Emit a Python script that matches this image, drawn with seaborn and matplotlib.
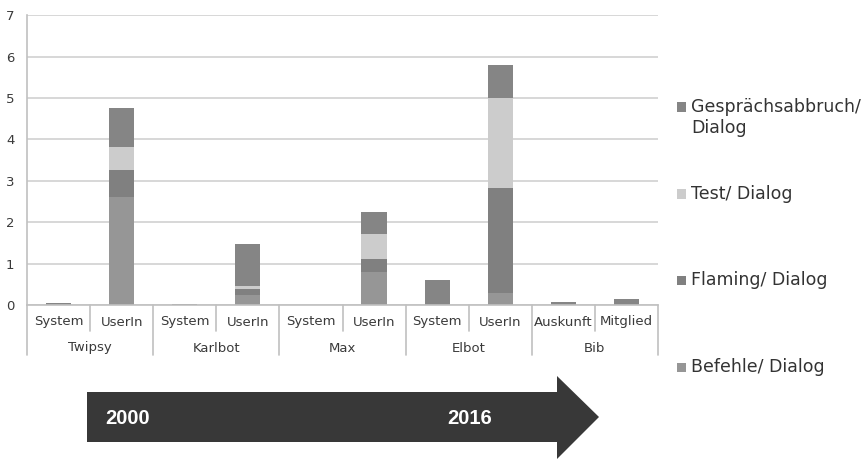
import matplotlib
matplotlib.use("Agg")
import matplotlib.pyplot as plt
import matplotlib.transforms as mtransforms
from matplotlib.patches import Polygon, Rectangle
import seaborn as sns
import pandas as pd
import numpy as np

# ---------------- data ----------------
groups = ["Twipsy", "Karlbot", "Max", "Elbot", "Bib"]
group_sizes = [2, 2, 2, 2, 2]
subcats = ["System", "UserIn", "System", "UserIn", "System", "UserIn",
           "System", "UserIn", "Auskunft", "Mitglied"]
series = ["Befehle/ Dialog", "Flaming/ Dialog", "Test/ Dialog",
          "Gesprächsabbruch/\nDialog"]
befehle = [0, 2.62, 0, 0.25, 0, 0.79, 0, 0.30, 0, 0]
flaming = [0, 0.63, 0, 0.14, 0, 0.33, 0, 2.53, 0, 0]
test = [0, 0.57, 0, 0.08, 0, 0.59, 0, 2.17, 0, 0]
gespraech = [0.04, 0.93, 0.02, 1.00, 0, 0.53, 0.60, 0.80, 0.07, 0.15]
colors = ["#969696", "#808080", "#cccccc", "#858585"]
years = ["2000", "2016"]
yticks = [0, 1, 2, 3, 4, 5, 6, 7]

# ---------------- figure ----------------
sns.set_style("white")
W, H = 866, 459
fig = plt.figure(figsize=(W / 100, H / 100), dpi=100)
ax_l, ax_r, ax_t, ax_b = 27, 658, 15.3, 305
ax = fig.add_axes([ax_l / W, (H - ax_b) / H, (ax_r - ax_l) / W, (ax_b - ax_t) / H])

# unique category keys
grp_of = []
for g, n in zip(groups, group_sizes):
    grp_of += [g] * n
keys = [f"{g}|{s}|{i}" for i, (g, s) in enumerate(zip(grp_of, subcats))]

vals = np.array([befehle, flaming, test, gespraech])
cum = np.cumsum(vals, axis=0)

# draw stacked bars: tallest cumulative first, overlay lower ones
for k in range(len(series) - 1, -1, -1):
    df = pd.DataFrame({"key": keys, "val": cum[k]})
    sns.barplot(data=df, x="key", y="val", order=keys, color=colors[k],
                saturation=1, width=0.4, errorbar=None, linewidth=0, ax=ax)

ax.set_xlim(-0.5, len(keys) - 0.5)
ax.set_ylim(0, 7)
ax.set_yticks(yticks)
ax.set_yticklabels([str(t) for t in yticks], fontsize=9.5, color="#3a3a3a")
ax.set_xticks([])
ax.set_xlabel("")
ax.set_ylabel("")
ax.yaxis.grid(True, color="#d4d4d4", linewidth=1.3)
ax.set_axisbelow(True)
for s in ["top", "right"]:
    ax.spines[s].set_visible(False)
ax.spines["left"].set_color("#c0c0c0")
ax.spines["bottom"].set_color("#c0c0c0")
ax.spines["left"].set_linewidth(1.2)
ax.spines["bottom"].set_linewidth(1.2)
ax.tick_params(axis="y", length=4, color="#c0c0c0", pad=5, width=1.2)

# multi-level category axis
axh = ax_b - ax_t
trans = mtransforms.blended_transform_factory(ax.transData, ax.transAxes)
row1 = -(322 - ax_b) / axh
row2 = -(348 - ax_b) / axh
short = -(331 - ax_b) / axh
long_ = -(355 - ax_b) / axh
for i, s in enumerate(subcats):
    ax.text(i, row1, s, transform=trans, ha="center", va="center",
            fontsize=9.5, color="#3a3a3a")
pos = 0
bounds = [0]
for g, n in zip(groups, group_sizes):
    ax.text(pos + (n - 1) / 2, row2, g, transform=trans, ha="center",
            va="center", fontsize=9.5, color="#3a3a3a")
    pos += n
    bounds.append(pos)
for i in range(len(keys) + 1):
    x = i - 0.5
    y1 = long_ if i in bounds else short
    ax.plot([x, x], [0, y1], transform=trans, color="#c0c0c0", lw=1.2,
            clip_on=False)

# legend (manual, to match spacing)
def fx(x):
    return x / W
def fy(y):
    return 1 - y / H

leg_text_y = [367, 280, 194, 117.5]
leg_mark_y = [367, 280, 194, 107]
for k in range(len(series)):
    fig.patches.append(Rectangle((fx(677), fy(leg_mark_y[k] + 4.5)), 9 / W, 9 / H,
                                 transform=fig.transFigure, facecolor=colors[k],
                                 edgecolor="none"))
    fig.text(fx(691), fy(leg_text_y[k]), series[k], ha="left", va="center",
             fontsize=12.5, color="#333333", linespacing=1.2)

# timeline arrow
pts = [(87, 392), (557, 392), (557, 376), (599, 417), (557, 459),
       (557, 442), (87, 442)]
fig.patches.append(Polygon([(fx(x), fy(y)) for x, y in pts], closed=True,
                           transform=fig.transFigure, facecolor="#383838",
                           edgecolor="none"))
for t, xc in zip(years, [128, 470]):
    fig.text(fx(xc), fy(418), t, ha="center", va="center", fontsize=14.5,
             fontweight="bold", color="white", family="Liberation Sans")

fig.savefig("out.png", dpi=100)
